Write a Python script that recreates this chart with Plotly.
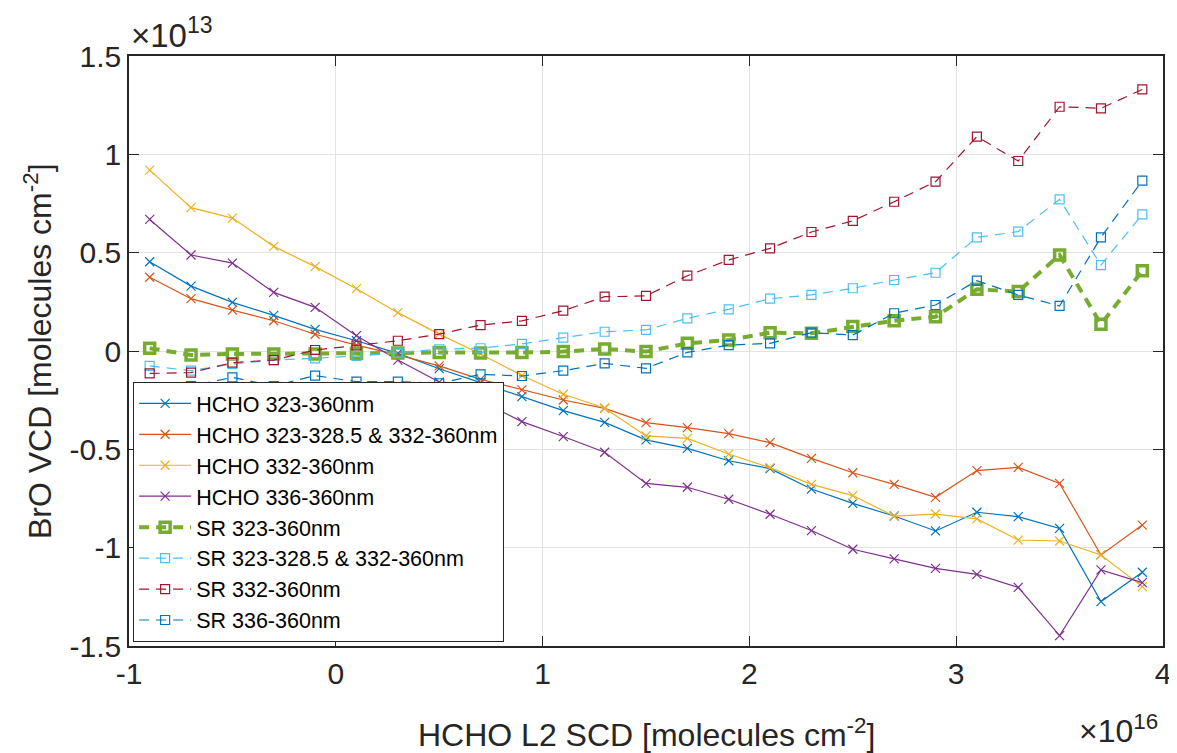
import plotly.graph_objects as go

# HCHO L2 SCD, units of 1e16 molecules cm-2
x_scd = [-0.9, -0.7, -0.5, -0.3, -0.1, 0.1, 0.3, 0.5, 0.7, 0.9, 1.1, 1.3, 1.5,
         1.7, 1.9, 2.1, 2.3, 2.5, 2.7, 2.9, 3.1, 3.3, 3.5, 3.7, 3.9]

# BrO VCD, units of 1e13 molecules cm-2
hcho_323_360 = [0.454, 0.330, 0.247, 0.181, 0.110, 0.052, -0.012, -0.090, -0.161, -0.232,
                -0.303, -0.363, -0.452, -0.495, -0.558, -0.598, -0.702, -0.775, -0.839,
                -0.915, -0.820, -0.842, -0.902, -1.274, -1.125]
hcho_323_328_332_360 = [0.375, 0.266, 0.208, 0.154, 0.085, 0.030, -0.020, -0.076, -0.144, -0.198,
                        -0.249, -0.292, -0.364, -0.390, -0.420, -0.466, -0.546, -0.619, -0.678,
                        -0.744, -0.608, -0.592, -0.673, -1.037, -0.885]
hcho_332_360 = [0.920, 0.729, 0.676, 0.532, 0.429, 0.317, 0.195, 0.086, -0.015, -0.125,
                -0.220, -0.290, -0.432, -0.444, -0.524, -0.593, -0.678, -0.735, -0.840,
                -0.829, -0.854, -0.961, -0.966, -1.037, -1.198]
hcho_336_360 = [0.669, 0.488, 0.447, 0.298, 0.222, 0.078, -0.046, -0.158, -0.253, -0.359,
                -0.435, -0.515, -0.673, -0.693, -0.754, -0.830, -0.913, -1.008, -1.057,
                -1.105, -1.136, -1.202, -1.447, -1.113, -1.178]
sr_323_360 = [0.014, -0.020, -0.015, -0.015, -0.015, -0.012, -0.010, -0.007, -0.010, -0.008,
              -0.003, 0.010, -0.003, 0.039, 0.056, 0.093, 0.090, 0.124, 0.154,
              0.174, 0.314, 0.302, 0.488, 0.136, 0.408]
sr_323_328_332_360 = [-0.076, -0.100, -0.066, -0.046, -0.037, -0.025, -0.008, 0.009, 0.014, 0.036,
                      0.068, 0.098, 0.107, 0.166, 0.212, 0.266, 0.285, 0.319, 0.361,
                      0.398, 0.578, 0.607, 0.771, 0.437, 0.695]
sr_332_360 = [-0.114, -0.110, -0.059, -0.046, 0.005, 0.028, 0.052, 0.086, 0.132, 0.153,
              0.205, 0.276, 0.280, 0.383, 0.463, 0.522, 0.605, 0.662, 0.759,
              0.861, 1.090, 0.966, 1.242, 1.234, 1.330]
sr_336_360 = [-0.185, -0.178, -0.134, -0.178, -0.125, -0.156, -0.156, -0.164, -0.119, -0.127,
              -0.100, -0.063, -0.088, -0.007, 0.030, 0.039, 0.093, 0.081, 0.192,
              0.234, 0.358, 0.285, 0.229, 0.578, 0.866]

y_ticks = [-1.5, -1, -0.5, 0, 0.5, 1, 1.5]
y_ticklabels = ['-1.5', '-1', '-0.5', '0', '0.5', '1', '1.5']
x_ticks = [-1, 0, 1, 2, 3, 4]
x_ticklabels = ['-1', '0', '1', '2', '3', '4']

FONT = 'Liberation Sans, Arial, sans-serif'
AX = '#262626'

hcho = [
    ('HCHO 323-360nm', hcho_323_360, '#0072BD'),
    ('HCHO 323-328.5 & 332-360nm', hcho_323_328_332_360, '#D95319'),
    ('HCHO 332-360nm', hcho_332_360, '#EDB120'),
    ('HCHO 336-360nm', hcho_336_360, '#7E2F8E'),
]
sr = [
    ('SR 323-360nm', sr_323_360, '#77AC30', 4, 10, 3.5),
    ('SR 323-328.5 & 332-360nm', sr_323_328_332_360, '#4DBEEE', 1.2, 9, 1.2),
    ('SR 332-360nm', sr_332_360, '#A2142F', 1.2, 9, 1.2),
    ('SR 336-360nm', sr_336_360, '#0072BD', 1.2, 9, 1.2),
]

fig = go.Figure()

for name, vals, col in hcho:
    fig.add_trace(go.Scatter(
        x=x_scd, y=vals, name=name, mode='lines+markers',
        line=dict(color=col, width=1.2),
        marker=dict(symbol='x-thin-open', size=9, line=dict(color=col, width=1.2)),
    ))

for name, vals, col, lw, ms, mlw in sr:
    fig.add_trace(go.Scatter(
        x=x_scd, y=vals, name=name, mode='lines+markers',
        line=dict(color=col, width=lw, dash='10px,7px'),
        marker=dict(symbol='square-open', size=ms, color=col, line=dict(color=col, width=mlw)),
    ))

# the page body adds an 8px margin, so the figure is 8px smaller than the window
fig.update_layout(
    width=1169, height=745,
    margin=dict(l=121, r=14, t=48, b=107, autoexpand=False),
    paper_bgcolor='white', plot_bgcolor='white',
    font=dict(family=FONT, color=AX, size=30),
    showlegend=True,
    legend=dict(
        x=0.004, y=0.007, xanchor='left', yanchor='bottom',
        bgcolor='white', bordercolor=AX, borderwidth=1,
        font=dict(size=21.5, color='black'),
        itemwidth=52,
        tracegroupgap=0,
    ),
)

fig.update_xaxes(
    range=[-1, 4], tickvals=x_ticks, ticktext=x_ticklabels, automargin=False,
    showgrid=True, gridcolor='#e3e3e3', gridwidth=1,
    zeroline=False, showline=True, linecolor=AX, linewidth=1.5, mirror='ticks',
    ticks='inside', ticklen=10, tickcolor=AX, tickwidth=1,
    tickfont=dict(size=30, color=AX),
)
fig.update_yaxes(
    range=[-1.5, 1.5], tickvals=y_ticks, ticktext=y_ticklabels, automargin=False,
    showgrid=True, gridcolor='#e3e3e3', gridwidth=1,
    zeroline=False, showline=True, linecolor=AX, linewidth=1.5, mirror='ticks',
    ticks='inside', ticklen=10, tickcolor=AX, tickwidth=1,
    tickfont=dict(size=30, color=AX),
)

# axis titles and exponent labels
fig.add_annotation(
    text='HCHO L2 SCD [molecules cm<sup>-2</sup>]', xref='paper', yref='paper',
    x=0.5, y=-0.148, xanchor='center', yanchor='middle', showarrow=False,
    font=dict(size=32, color=AX),
)
fig.add_annotation(
    text='BrO VCD [molecules cm<sup>-2</sup>]', xref='paper', yref='paper',
    x=-0.088, y=0.5, xanchor='center', yanchor='middle', textangle=-90, showarrow=False,
    font=dict(size=32, color=AX),
)
fig.add_annotation(
    text='×10<sup>13</sup>', xref='paper', yref='paper',
    x=0.0, y=1.0, xanchor='left', yanchor='bottom', showarrow=False,
    font=dict(size=33, color=AX),
)
fig.add_annotation(
    text='×10<sup>16</sup>', xref='paper', yref='paper',
    x=0.997, y=-0.178, xanchor='right', yanchor='bottom', showarrow=False,
    font=dict(size=32, color=AX),
)

fig.write_html("out.html")
